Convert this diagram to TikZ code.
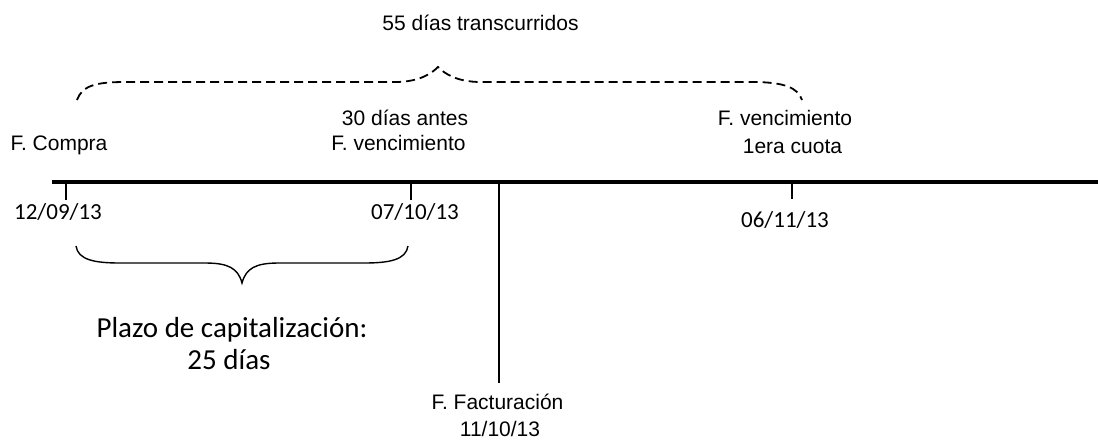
\documentclass[tikz,border=0pt]{standalone}
\usepackage{fontspec}
\setmainfont{Liberation Sans}
\newfontfamily\calfont{Carlito}
\begin{document}
\begin{tikzpicture}[x=1pt,y=-1pt,
  arial/.style={font=\fontsize{21}{25}\selectfont, anchor=base, inner sep=0pt},
  datefont/.style={font=\calfont\fontsize{23}{27}\selectfont, anchor=base, inner sep=0pt},
  bigcal/.style={font=\calfont\fontsize{29}{34}\selectfont, anchor=base, inner sep=0pt},
  axisline/.style={line width=3.8pt},
  tickline/.style={line width=1.6pt},
  bracestyle/.style={line width=1.4pt},
  dashbrace/.style={line width=1.8pt, dash pattern=on 9pt off 5pt}]
\useasboundingbox (0,0) rectangle (1098,440);
% axis
\coordinate (a0) at (52,182);
\coordinate (a1) at (1098,182);
\draw[axisline] (a0) -- (a1);
% ticks
\coordinate (t1) at (66,182);  \coordinate (t1b) at (66,200);
\coordinate (t2) at (411,182); \coordinate (t2b) at (411,200);
\coordinate (t3) at (792,182); \coordinate (t3b) at (792,199);
\coordinate (tf) at (499,182); \coordinate (tfb) at (499,383);
\draw[tickline] (t1) -- (t1b);
\draw[tickline] (t2) -- (t2b);
\draw[tickline] (t3) -- (t3b);
\draw[tickline] (tf) -- (tfb);
% labels above
\node[arial] (top) at (480.5,30) {55 días transcurridos};
\node[arial] (compra) at (59,150) {F. Compra};
\node[arial] (antes) at (405,125) {30 días antes};
\node[arial] (venc1) at (398.5,150) {F. vencimiento};
\node[arial] (venc2) at (785,125) {F. vencimiento};
\node[arial] (cuota) at (792.5,153) {1era cuota};
% dates
\node[datefont] (d1) at (58,219) {12/09/13};
\node[datefont] (d2) at (415,219) {07/10/13};
\node[datefont] (d3) at (785,227) {06/11/13};
\node[arial] (fact) at (497.5,409) {F. Facturación};
\node[arial] (dfact) at (500,436) {11/10/13};
% plazo
\node[bigcal] (plazo) at (232,337) {Plazo de capitalización:};
\node[bigcal] (dias) at (229,369) {25 días};
% dashed brace
\coordinate (db0) at (77,100);
\coordinate (dbp) at (438,67);
\coordinate (db1) at (802,100);
\draw[dashbrace] (db0) .. controls (82,86) and (95,82) .. (125,82) -- (395,82)
  .. controls (420,82) and (432,73) .. (dbp)
  .. controls (444,73) and (456,82) .. (481,82) -- (752,82)
  .. controls (785,82) and (798,88) .. (db1);
% solid brace
\coordinate (sb0) at (76,246);
\coordinate (sbp) at (242,283);
\coordinate (sb1) at (408,246);
\draw[bracestyle] (sb0) .. controls (78,260) and (95,263) .. (120,263) -- (205,263)
  .. controls (228,263) and (238,268) .. (sbp)
  .. controls (246,268) and (256,263) .. (279,263) -- (364,263)
  .. controls (389,263) and (406,260) .. (sb1);
\end{tikzpicture}
\end{document}
